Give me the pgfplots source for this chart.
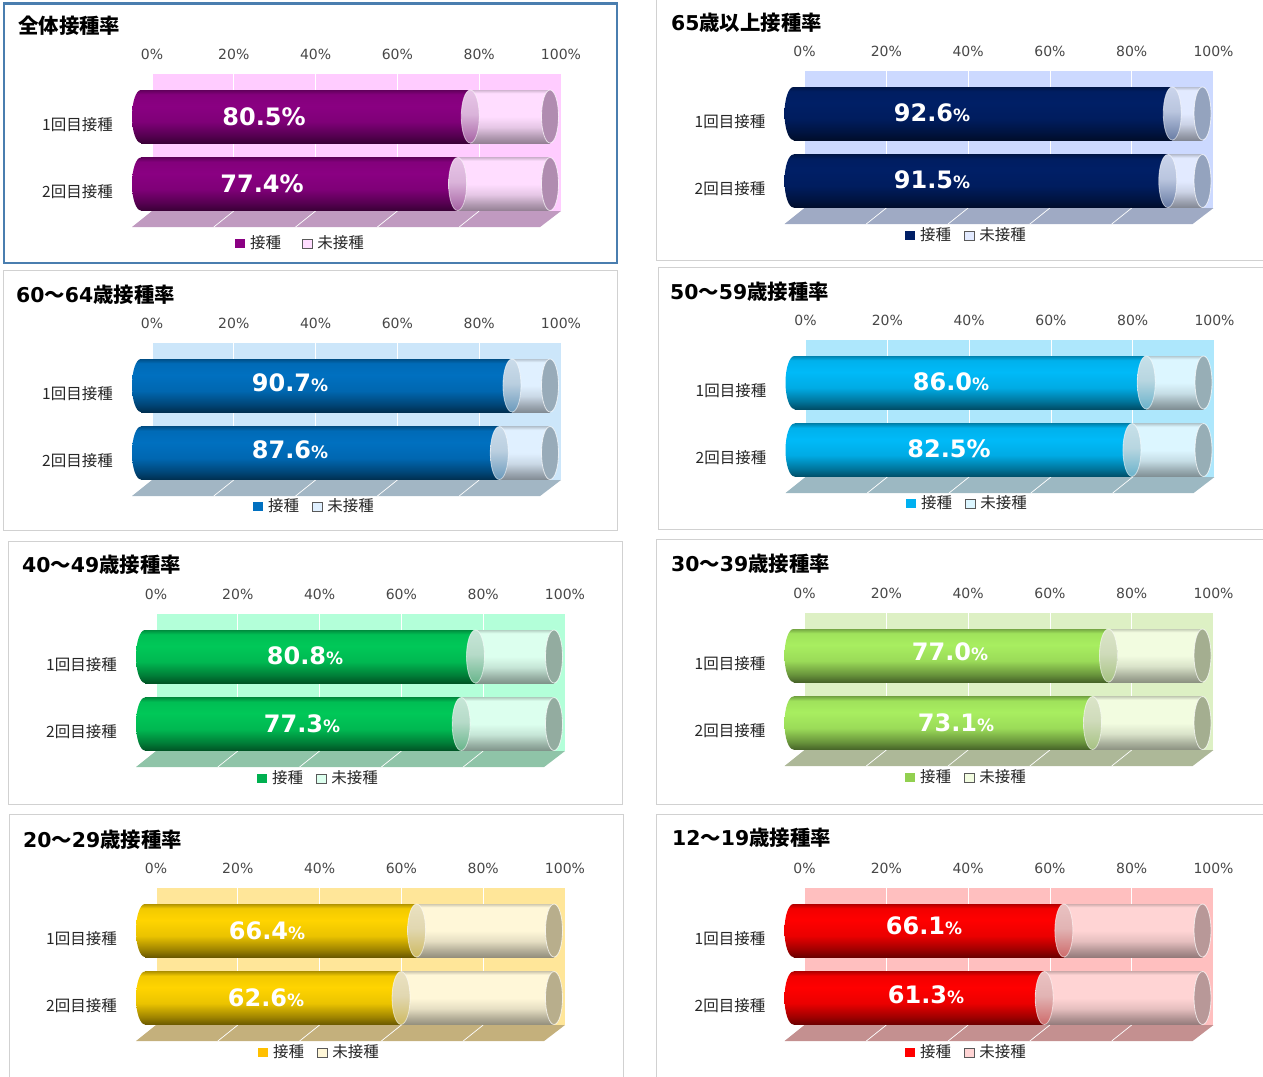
\documentclass[border=0pt]{standalone}
\usepackage{fontspec}
\usepackage{pgfplots}
\pgfplotsset{compat=1.18}
\setmainfont{DejaVu Sans}
\newfontfamily\cjk{Noto Sans CJK JP}
\newcommand\px[1]{\fontsize{#1}{#1}\selectfont}

% colours of the panel being drawn
\colorlet{dk}{black}\colorlet{wallc}{white}\colorlet{li}{white}\colorlet{floorc}{gray}\colorlet{capc}{gray}\colorlet{legc}{black}
\newcommand\cols[6]{%
  \definecolor{dk}{HTML}{#1}\definecolor{wallc}{HTML}{#2}\definecolor{li}{HTML}{#3}%
  \definecolor{floorc}{HTML}{#4}\definecolor{capc}{HTML}{#5}\definecolor{legc}{HTML}{#6}}

% tikz shows only 25bp..75bp of a shading
\pgfdeclareverticalshading[dk]{cylD}{100bp}{color(0bp)=(dk!42!black); color(25bp)=(dk!42!black); color(32bp)=(dk!62!black); color(45bp)=(dk!92!black); color(60bp)=(dk); color(71bp)=(dk!95!black); color(75bp)=(dk!70!black); color(100bp)=(dk!70!black)}
\pgfdeclareverticalshading[li]{cylL}{100bp}{color(0bp)=(li!58!black); color(25bp)=(li!58!black); color(31bp)=(li!70!black); color(40bp)=(li!90!black); color(50bp)=(li); color(72bp)=(li); color(75bp)=(li!82!black); color(100bp)=(li!82!black)}
\pgfdeclareverticalshading[li,dk,capc]{cylJ}{100bp}{color(0bp)=(dk!30!capc); color(25bp)=(dk!30!capc); color(52bp)=(dk!8!capc!45!li); color(75bp)=(li!70!capc); color(100bp)=(li!70!capc)}

\pgfdeclareplotmark{capleft}{\path[shade,shading=cylD,draw=none] (canvas cs:x=0pt,y=0pt) ellipse (9pt and 26.5pt);}
\pgfdeclareplotmark{capjoint}{\path[shade,shading=cylJ,draw=white,draw opacity=.55,line width=.8pt] (canvas cs:x=0pt,y=0pt) ellipse (9pt and 26.5pt);}
\pgfdeclareplotmark{capend}{\path[fill=capc,draw=white,draw opacity=.7,line width=.8pt] (canvas cs:x=0pt,y=0pt) ellipse (8.5pt and 26.5pt);}

\pgfplotsset{panelaxis/.style={
  scale only axis, width=409pt, height=137pt, anchor=north west,
  xmin=0, xmax=100, ymin=0.3704, ymax=2.4, y dir=reverse, clip=false},
  baraxis/.style={panelaxis, hide axis, xbar stacked, bar width=53pt}}

% gap between the two legend entries
\def\legsep{11pt}

% wall x, wall top, done 1, open 1, done 2, open 2, legend x, legend y below wall top
\newcommand\panel[8]{%
  \begin{axis}[panelaxis, at={(#1pt,-#2pt)},
    axis background/.style={fill=wallc},
    axis line style={draw=none}, tick style={draw=none}, major tick length=0pt,
    xmajorgrids, grid style={white,line width=.7pt},
    xtick={0,20,40,60,80,100}, xticklabels={0\%,20\%,40\%,60\%,80\%,100\%},
    xticklabel pos=top, xticklabel shift=0pt,
    xticklabel style={anchor=center,inner sep=0pt,yshift=19.5pt,text=black!72,font=\px{14}},
    ytick={1.12,2.12}, yticklabels={1回目接種,2回目接種},
    yticklabel style={inner sep=0pt,anchor=east,xshift=-39pt,text=black!85,font=\cjk\px{15.5}},
    unbounded coords=jump]
    \addplot[fill=floorc,draw=none] coordinates {(0,2.4) (100,2.4) (94.9,2.637) (-4.89,2.637)} -- cycle;
    \addplot[white,line width=.7pt] coordinates {(20,2.4) (15.11,2.637) (nan,nan) (40,2.4) (35.11,2.637) (nan,nan) (60,2.4) (55.11,2.637) (nan,nan) (80,2.4) (75.11,2.637)};
  \end{axis}
  % left ends go under the bars
  \begin{axis}[panelaxis, at={(#1pt-11pt,-#2pt)}, hide axis]
    \addplot[only marks,mark=capleft] coordinates {(0,1) (0,2)};
  \end{axis}
  % one axis per row, so that each cylinder gets its own gradient
  \begin{axis}[baraxis, at={(#1pt-11pt,-#2pt)},
    legend columns=2,
    legend style={at={({(#7-(#1-11))/409},{1-#8/137})},anchor=west,draw=none,fill=none,
      inner sep=0pt,outer sep=0pt,font=\cjk\px{15.5},text=black!85,
      /tikz/every even column/.append style={column sep=\legsep}}]
    \addplot[draw=none,shade,shading=cylD,
      legend image code/.code={\path (0pt,0pt) -- (13pt,0pt);\fill[shade=false,fill=legc] (0pt,-5pt) rectangle (9.5pt,4pt);}]
      coordinates {(#3,1)};
    \addlegendentry{接種}
    \addplot[draw=none,shade,shading=cylL,
      legend image code/.code={\path (0pt,0pt) -- (13pt,0pt);\draw[shade=false,draw=black!65,fill=li,line width=.7pt] (0pt,-5pt) rectangle (9.5pt,4pt);}]
      coordinates {(#4,1)};
    \addlegendentry{未接種}
  \end{axis}
  \begin{axis}[baraxis, at={(#1pt-11pt,-#2pt)}]
    \addplot[draw=none,shade,shading=cylD] coordinates {(#5,2)};
    \addplot[draw=none,shade,shading=cylL] coordinates {(#6,2)};
  \end{axis}
  \begin{axis}[panelaxis, at={(#1pt-11pt,-#2pt)}, hide axis]
    \addplot[only marks,mark=capjoint] coordinates {(#3,1) (#5,2)};
    \addplot[only marks,mark=capend] coordinates {(100,1) (100,2)};
  \end{axis}}

% title at x,y
\newcommand\ttl[3]{\node[anchor=west,inner sep=0pt,font=\bfseries\px{20.4}] at (#1pt,-#2pt) {#3};}
% value label at x,y
\newcommand\val[3]{\node[text=white,inner sep=0pt,font=\bfseries\px{24}] at (#1pt,-#2pt) {#3};}
\newcommand\pct{{\px{17}\%}}
\newcommand\pbox[4]{\draw[black!18,line width=1pt] (#1pt,-#2pt) rectangle (#3pt,-#4pt);}

\begin{document}
\begin{tikzpicture}
\path[use as bounding box] (0,0) rectangle (1263pt,-1076pt);

% 全体
\draw[color={rgb,255:red,74;green,126;blue,175},line width=2.2pt] (4pt,-3.5pt) rectangle (617pt,-263pt);
\cols{8A0082}{FFCCFF}{FFDDFF}{C09AC0}{B08CB0}{8A0082}
\def\legsep{19pt}
\panel{152}{74}{80.5}{19.5}{77.4}{22.6}{235}{169}
\def\legsep{11pt}
\ttl{18}{26}{{\cjk 全体接種率}}
\val{264}{117}{80.5\%}
\val{262}{184}{77.4\%}

% 65+
\pbox{656}{-3}{1270}{260}
\cols{001F66}{CCD9FF}{E2EAFF}{9FAAC4}{94A3BE}{001F66}
\panel{804.5}{71}{92.6}{7.4}{91.5}{8.5}{905}{164}
\ttl{671}{23}{65{\cjk 歳以上接種率}}
\val{932}{113}{92.6\pct}
\val{932}{180}{91.5\pct}

% 60-64
\pbox{3}{270}{617}{530}
\cols{0070C0}{CCE6FA}{E0F0FF}{A2B6C4}{98ABB9}{0070C0}
\panel{152}{343}{90.7}{9.3}{87.6}{12.4}{253}{163}
\ttl{16}{295}{60{\cjk 〜}64{\cjk 歳接種率}}
\val{290}{383}{90.7\pct}
\val{290}{450}{87.6\pct}

% 50-59
\pbox{658}{267}{1270}{529}
\cols{00BAF8}{ADE7FC}{DCF6FF}{9CB8C2}{97AEB6}{00B0F0}
\panel{805.5}{340}{86.0}{14.0}{82.5}{17.5}{906}{163}
\ttl{670}{292}{50{\cjk 〜}59{\cjk 歳接種率}}
\val{951}{382}{86.0\pct}
\val{949}{449}{82.5\%}

% 40-49
\pbox{8}{541}{622}{804}
\cols{00C858}{B3FFD9}{DCFFEE}{8FC4A8}{93ACA0}{00B050}
\panel{156}{614}{80.8}{19.2}{77.3}{22.7}{257}{164}
\ttl{22}{565}{40{\cjk 〜}49{\cjk 歳接種率}}
\val{305}{656}{80.8\pct}
\val{302}{724}{77.3\pct}

% 30-39
\pbox{656}{539}{1270}{804}
\cols{A8EE60}{DDF0C4}{F2FCE0}{ADB898}{A4AE90}{92D050}
\panel{804.5}{613}{77.0}{23.0}{73.1}{26.9}{905}{164}
\ttl{671}{564}{30{\cjk 〜}39{\cjk 歳接種率}}
\val{950}{652}{77.0\pct}
\val{956}{723}{73.1\pct}

% 20-29
\pbox{9}{814}{623}{1085}
\cols{FFD400}{FFE699}{FFF7D8}{C4B07C}{B8AE8C}{FFC000}
\panel{156}{888}{66.4}{33.6}{62.6}{37.4}{258}{164}
\ttl{23}{840}{20{\cjk 〜}29{\cjk 歳接種率}}
\val{267}{931}{66.4\pct}
\val{266}{998}{62.6\pct}

% 12-19
\pbox{656}{814}{1270}{1085}
\cols{FF0000}{FFBFBF}{FFD4D4}{C49090}{B89898}{FF0000}
\panel{804.5}{888}{66.1}{33.9}{61.3}{38.7}{905}{164}
\ttl{672}{838}{12{\cjk 〜}19{\cjk 歳接種率}}
\val{924}{926}{66.1\pct}
\val{926}{995}{61.3\pct}
\end{tikzpicture}
\end{document}
